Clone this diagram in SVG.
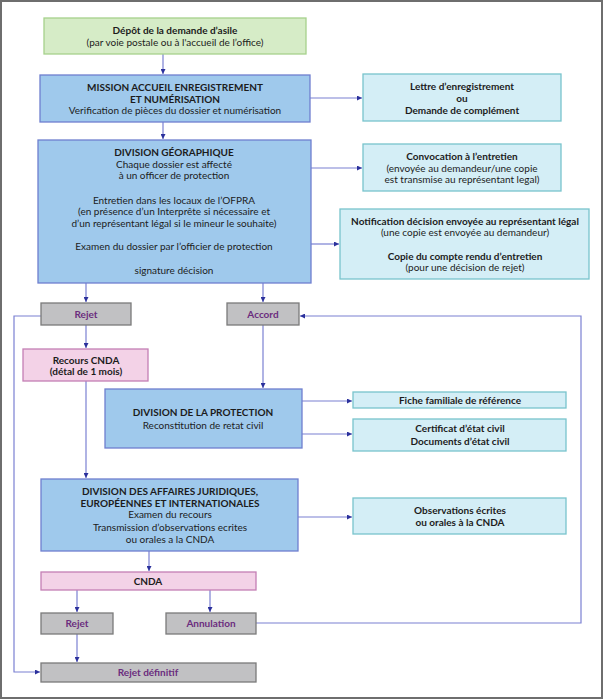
<svg xmlns="http://www.w3.org/2000/svg" width="604" height="700" viewBox="0 0 604 700">
<style>
text{font-family:Lato,"Liberation Sans",sans-serif;font-size:10px;fill:#1c1c1c;text-anchor:middle;dominant-baseline:central}
.b{font-weight:bold}
.p{fill:#6b2d7e;font-weight:bold}
.blue{fill:#9fc9ec;stroke:#6f7fcf;stroke-width:1.3}
.cyan{fill:#d4eef6;stroke:#78c4cc;stroke-width:1.3}
.green{fill:#d6ecc7;stroke:#a6d28c;stroke-width:1.3}
.pink{fill:#f3d2e7;stroke:#c47fb4;stroke-width:1.3}
.gray{fill:#c1c1c3;stroke:#7a7a7a;stroke-width:1.3}
#connectors path{fill:none;stroke:#7b80d2;stroke-width:1.2}
</style>
<defs>
<marker id="ah" viewBox="0 0 10 10" refX="10" refY="5" markerWidth="5" markerHeight="5" orient="auto" markerUnits="userSpaceOnUse">
<path d="M0,0 L10,5 L0,10 z" fill="#2b309c"/>
</marker>
</defs>
<rect x="1" y="1" width="601" height="697" fill="#fff" stroke="#6e6e6e" stroke-width="2"/>
<g id="connectors">
<path d="M163,54 V74" marker-end="url(#ah)"/>
<path d="M310,98 H362" marker-end="url(#ah)"/>
<path d="M163,122 V139" marker-end="url(#ah)"/>
<path d="M311,168 H362" marker-end="url(#ah)"/>
<path d="M311,244 H339" marker-end="url(#ah)"/>
<path d="M86,283 V302" marker-end="url(#ah)"/>
<path d="M263,283 V302" marker-end="url(#ah)"/>
<path d="M41,316 H14 V672 H40" marker-end="url(#ah)"/>
<path d="M86,325 V348" marker-end="url(#ah)"/>
<path d="M263,325 V388" marker-end="url(#ah)"/>
<path d="M86,381 V478" marker-end="url(#ah)"/>
<path d="M302,401 H352" marker-end="url(#ah)"/>
<path d="M302,434 H352" marker-end="url(#ah)"/>
<path d="M298,517 H352" marker-end="url(#ah)"/>
<path d="M149,551 V571" marker-end="url(#ah)"/>
<path d="M77,590 V612" marker-end="url(#ah)"/>
<path d="M210,590 V612" marker-end="url(#ah)"/>
<path d="M77,634 V662" marker-end="url(#ah)"/>
<path d="M256,623 H581 V316 H300" marker-end="url(#ah)"/>
</g>
<g id="depot">
<rect class="green" x="44" y="18" width="262" height="36"/>
<text class="b" x="175" y="30">Dépôt de la demande d’asile</text>
<text x="175" y="42">(par voie postale ou à l'accueil de l’office)</text>
</g>
<g id="mission">
<rect class="blue" x="40" y="75" width="270" height="47"/>
<text class="b" x="175" y="87">MISSION ACCUEIL ENREGISTREMENT</text>
<text class="b" x="175" y="99">ET NUMÉRISATION</text>
<text x="175" y="110">Verification de pièces  du dossier et numérisation</text>
</g>
<g id="lettre">
<rect class="cyan" x="363" y="74" width="198" height="47"/>
<text class="b" x="462" y="86">Lettre d’enregistrement</text>
<text class="b" x="462" y="98">ou</text>
<text class="b" x="462" y="110">Demande de complément</text>
</g>
<g id="geo">
<rect class="blue" x="38" y="140" width="273" height="143"/>
<text class="b" x="174" y="152">DIVISION GÉORAPHIQUE</text>
<text x="174" y="164">Chaque dossier est affecté</text>
<text x="174" y="175">à un officer de protection</text>
<text x="174" y="200">Entretien dans les locaux de l’OFPRA</text>
<text x="174" y="211">(en présence d’un Interprête si nécessaire et</text>
<text x="174" y="223">d’un représentant légal si le mineur le souhaite)</text>
<text x="174" y="246">Examen du dossier par l’officier de protection</text>
<text x="174" y="270">signature décision</text>
</g>
<g id="convocation">
<rect class="cyan" x="363" y="144" width="198" height="47"/>
<text class="b" x="462" y="156">Convocation à l’entretien</text>
<text x="462" y="168">(envoyée au demandeur/une copie</text>
<text x="462" y="179">est transmise au représentant legal)</text>
</g>
<g id="notification">
<rect class="cyan" x="340" y="209" width="249" height="70"/>
<text class="b" x="465" y="221">Notification décision envoyée au représentant légal</text>
<text x="465" y="232">(une copie est envoyée au demandeur)</text>
<text class="b" x="465" y="256">Copie du compte rendu d’entretien</text>
<text x="465" y="267">(pour une décision de rejet)</text>
</g>
<g id="rejet1">
<rect class="gray" x="41" y="303" width="90" height="22"/>
<text class="p" x="86" y="314">Rejet</text>
</g>
<g id="accord">
<rect class="gray" x="227" y="303" width="72" height="22"/>
<text class="p" x="263" y="314">Accord</text>
</g>
<g id="recours">
<rect class="pink" x="23" y="349" width="125" height="32"/>
<text class="b" x="86" y="360">Recours CNDA</text>
<text class="b" x="86" y="371">(détal de 1 mois)</text>
</g>
<g id="protection">
<rect class="blue" x="105" y="389" width="197" height="59"/>
<text class="b" x="203" y="412">DIVISION DE LA PROTECTION</text>
<text x="203" y="425">Reconstitution de retat civil</text>
</g>
<g id="fiche">
<rect class="cyan" x="353" y="392" width="213" height="16"/>
<text class="b" x="460" y="400">Fiche familiale de référence</text>
</g>
<g id="certificat">
<rect class="cyan" x="353" y="419" width="213" height="32"/>
<text class="b" x="460" y="428">Certificat d’état civil</text>
<text class="b" x="460" y="441">Documents d’état civil</text>
</g>
<g id="daj">
<rect class="blue" x="41" y="479" width="257" height="72"/>
<text class="b" x="170" y="491">DIVISION DES AFFAIRES JURIDIQUES,</text>
<text class="b" x="170" y="503">EUROPÉENNES ET INTERNATIONALES</text>
<text x="170" y="514">Examen du recours</text>
<text x="170" y="527">Transmission d’observations ecrites</text>
<text x="170" y="539">ou orales a la CNDA</text>
</g>
<g id="observations">
<rect class="cyan" x="353" y="498" width="213" height="36"/>
<text class="b" x="460" y="510">Observations écrites</text>
<text class="b" x="460" y="522">ou orales à la CNDA</text>
</g>
<g id="cnda">
<rect class="pink" x="41" y="572" width="215" height="18"/>
<text class="b" x="148" y="581">CNDA</text>
</g>
<g id="rejet2">
<rect class="gray" x="41" y="613" width="72" height="21"/>
<text class="p" x="77" y="623">Rejet</text>
</g>
<g id="annulation">
<rect class="gray" x="166" y="613" width="90" height="21"/>
<text class="p" x="211" y="623">Annulation</text>
</g>
<g id="rejetdef">
<rect class="gray" x="41" y="663" width="215" height="19"/>
<text class="p" x="148" y="672">Rejet définitif</text>
</g>
</svg>
